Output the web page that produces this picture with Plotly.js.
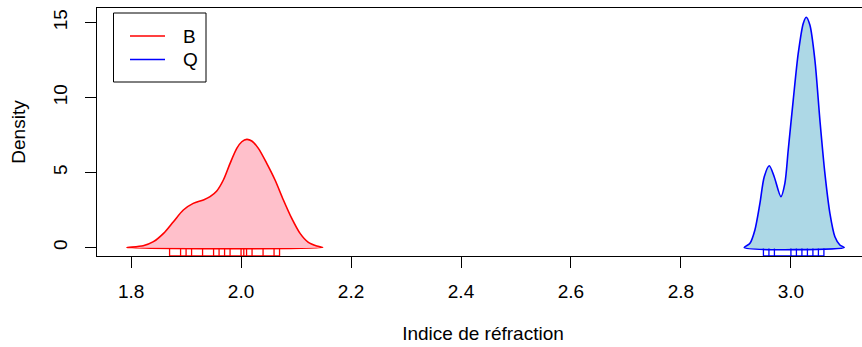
<!DOCTYPE html>
<html>
<head>
<meta charset="utf-8">
<script src="https://cdn.plot.ly/plotly-3.0.1.min.js"></script>
<style>
html,body{margin:0;padding:0;overflow:hidden;background:#fff;}
#chart{width:872px;height:347px;}
</style>
</head>
<body>
<div id="chart"></div>
<script>
// Density curve of group B
const bX = [1.792, 1.822, 1.8406, 1.859, 1.877, 1.895, 1.913, 1.9315, 1.9436, 1.9558, 1.9678, 1.98, 1.9922, 2.0013, 2.0104, 2.0195, 2.0315, 2.0467, 2.0618, 2.077, 2.0922, 2.1073, 2.1224, 2.1376, 2.1485];
const bY = [0, 0.12, 0.39, 0.94, 1.72, 2.5, 2.94, 3.17, 3.39, 3.77, 4.5, 5.61, 6.61, 7.05, 7.21, 7.1, 6.61, 5.61, 4.5, 3.17, 1.94, 0.94, 0.34, 0.1, 0];
// Density curve of group Q
const qX = [2.9151, 2.9255, 2.9345, 2.9436, 2.9515, 2.9606, 2.9696, 2.9818, 2.989, 2.9951, 3.0042, 3.0133, 3.0224, 3.0278, 3.0345, 3.0436, 3.0527, 3.0618, 3.0709, 3.08, 3.089, 3.0969];
const qY = [0, 0.28, 1.17, 2.94, 4.72, 5.45, 4.72, 3.39, 4.28, 6.5, 9.83, 12.94, 14.94, 15.35, 14.83, 12.5, 8.5, 4.94, 2.28, 0.72, 0.17, 0];
// Rug observations
const bRug = [1.87, 1.89, 1.90, 1.91, 1.93, 1.95, 1.96, 1.97, 1.98, 2.00, 2.005, 2.01, 2.02, 2.04, 2.06, 2.07];
const qRug = [2.95, 2.96, 2.97, 3.00, 3.01, 3.02, 3.03, 3.04, 3.05, 3.06];
// Axis ticks
const xTicks = [1.8, 2.0, 2.2, 2.4, 2.6, 2.8, 3.0];
const xTickText = ["1.8", "2.0", "2.2", "2.4", "2.6", "2.8", "3.0"];
const yTicks = [0, 5, 10, 15];
const groups = ["B", "Q"];

const FONT = "Liberation Sans, Arial, Helvetica, sans-serif";
const FS = 19;
const xr = [1.738, 3.142];
const yr = [-0.567, 15.967];
const rugLen = 0.03 * (yr[1] - yr[0]);

function rugTrace(vals, color) {
  const x = [], y = [];
  vals.forEach(v => { x.push(v, v, null); y.push(yr[0], yr[0] + rugLen, null); });
  // axis line of the rug between extreme observations
  x.push(Math.min(...vals), Math.max(...vals));
  y.push(yr[0], yr[0]);
  return {x, y, type: 'scatter', mode: 'lines', line: {color, width: 1.3}, hoverinfo: 'skip', showlegend: false};
}
function densTrace(xs, ys, line, fill) {
  return {
    x: xs.concat([xs[0]]), y: ys.concat([ys[0]]),
    type: 'scatter', mode: 'lines', fill: 'toself', fillcolor: fill,
    line: {color: line, width: 1.6, shape: 'spline', smoothing: 0.8},
    showlegend: false, hoverinfo: 'skip'
  };
}

const traces = [
  densTrace(bX, bY, 'red', 'pink'),
  densTrace(qX, qY, 'blue', 'lightblue'),
  rugTrace(bRug, 'red'),
  rugTrace(qRug, 'blue')
];

// legend drawn in paper coords
const L = 97, R = 869, T = 8, B = 256;
const px = v => (v - L) / (R - L);
const py = v => (B - v) / (B - T);

const shapes = [
  {type: 'rect', xref: 'paper', yref: 'paper', x0: px(113.5), x1: px(206), y0: py(82), y1: py(13), line: {color: 'black', width: 1}, fillcolor: 'white', layer: 'above'},
  {type: 'line', xref: 'paper', yref: 'paper', x0: px(130), x1: px(165), y0: py(36), y1: py(36), line: {color: 'red', width: 1.3}},
  {type: 'line', xref: 'paper', yref: 'paper', x0: px(130), x1: px(165), y0: py(59.5), y1: py(59.5), line: {color: 'blue', width: 1.3}}
];
const annotations = [
  {xref: 'paper', yref: 'paper', x: px(181), y: py(36), xanchor: 'left', yanchor: 'middle', text: groups[0], showarrow: false, font: {family: FONT, size: FS, color: 'black'}},
  {xref: 'paper', yref: 'paper', x: px(181), y: py(59.5), xanchor: 'left', yanchor: 'middle', text: groups[1], showarrow: false, font: {family: FONT, size: FS, color: 'black'}}
];

const layout = {
  width: 872, height: 347,
  margin: {l: L, r: 872 - R, t: T, b: 347 - B},
  paper_bgcolor: 'white', plot_bgcolor: 'white',
  font: {family: FONT, size: FS, color: 'black'},
  showlegend: false,
  xaxis: {
    range: xr, tickvals: xTicks, ticktext: xTickText,
    showgrid: false, zeroline: false, showline: true, mirror: true,
    linecolor: 'black', linewidth: 1, ticks: 'outside', ticklen: 11, tickcolor: 'black', tickwidth: 1,
    tickfont: {family: FONT, size: FS}, ticklabelstandoff: 7,
    title: {text: 'Indice de réfraction', font: {family: FONT, size: FS}, standoff: 25},
    automargin: false, fixedrange: true
  },
  yaxis: {
    range: yr, tickvals: yTicks,
    showgrid: false, zeroline: false, showline: true, mirror: true,
    linecolor: 'black', linewidth: 1, ticks: 'outside', ticklen: 11, tickcolor: 'black', tickwidth: 1,
    tickangle: -90, tickfont: {family: FONT, size: FS}, ticklabelstandoff: 10,
    title: {text: 'Density', font: {family: FONT, size: FS}, standoff: 19},
    automargin: false, fixedrange: true
  },
  shapes, annotations
};

Plotly.newPlot('chart', traces, layout, {staticPlot: true, displayModeBar: false});
</script>
</body>
</html>
